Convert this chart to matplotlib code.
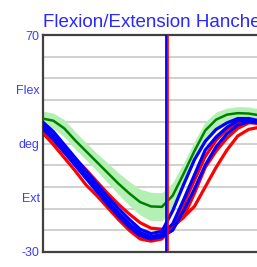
import matplotlib
matplotlib.use('Agg')
import matplotlib.pyplot as plt

# gait cycle (%)
cycle = [0, 5, 10, 15, 20, 25, 30, 35, 40, 45, 50, 55, 60, 65, 70, 75, 80, 85, 90, 95, 100]

# normative hip flexion (mean and spread)
norm_mean = [31.5, 30.5, 27, 21.5, 16.5, 11.5, 6.5, 1.5, -3, -7, -9, -9.2, -4, 6, 16.5, 26, 31, 33.3, 34, 33.8, 33]
norm_sd = [3.5, 3.5, 4, 4, 4, 4, 4.5, 5, 5.5, 6, 6.5, 6.5, 6, 5, 4.5, 4, 3.5, 3, 3, 3, 3]

# right side trials (red)
red_trials = [
    [27, 23, 18, 13, 8, 2.5, -3, -8, -12.5, -16.5, -19, -19.5, -18, -14, -3, 9, 16.5, 22.5, 27, 29.5, 29.5],
    [26, 21.5, 16, 10.5, 4.5, -1.5, -7, -12.5, -17.5, -21.5, -23, -22, -18, -8, 3, 14, 21.5, 26.5, 29.5, 30, 29],
    [25, 19.5, 13.5, 7.5, 1, -4, -9.5, -15, -20, -24, -25, -24, -18.5, -14, -9, 0, 9, 17, 23.5, 26.5, 27.5],
]

# left side trials (blue)
blue_trials = [
    [30, 25.5, 19.5, 13.5, 7.5, 1.5, -4.5, -10, -15, -19.5, -21.5, -20.5, -11, 1, 12.5, 21, 26.5, 29.5, 31.5, 31.5, 30.5],
    [28.5, 23.5, 17.5, 11.5, 5.5, -0.5, -6.5, -12, -17, -21, -23, -22, -17, -6, 5.5, 17, 23, 27.5, 30.5, 31, 30],
    [27, 22, 16, 10, 4, -2, -8, -13.5, -18.5, -22.5, -24, -23, -20, -11, -1, 10, 18.5, 24.5, 28.5, 30, 29.5],
]

# toe off markers
toe_off_left = 56.7
toe_off_right = 58.0

ytick_pos = [70, 45, 20, -5, -30]
ytick_labels = ['70', 'Flex', 'deg', 'Ext', '-30']

plt.rcParams['font.family'] = ['Liberation Sans', 'DejaVu Sans']

fig = plt.figure(figsize=(2.57, 2.67), dpi=100)
ax = fig.add_axes([42.5 / 257, 15 / 267, 217 / 257, 217 / 267])

lo = [m - s for m, s in zip(norm_mean, norm_sd)]
hi = [m + s for m, s in zip(norm_mean, norm_sd)]
ax.fill_between(cycle, lo, hi, color='#b4f0b4', lw=0, zorder=1)

for tr in red_trials:
    ax.plot(cycle, tr, color='#ff0000', lw=2.3, zorder=2, solid_capstyle='butt')
for tr in blue_trials:
    ax.plot(cycle, tr, color='#0000ff', lw=2.3, zorder=3, solid_capstyle='butt')

ax.plot(cycle, norm_mean, color='#008000', lw=1.8, zorder=4)

ax.axvline(toe_off_left, color='#0000ff', lw=2.0, zorder=5)
ax.axvline(toe_off_right, color='#ff0000', lw=1.2, zorder=5)

ax.set_xlim(0, 100)
ax.set_ylim(-30, 70)
ax.set_xticks([])
ax.set_yticks(ytick_pos)
ax.set_yticklabels(ytick_labels, color='#3c3cff', fontsize=9)
ax.tick_params(axis='y', length=0, pad=2)

for y in range(-20, 70, 10):
    ax.axhline(y, color='#c4c4c4', lw=1.1, zorder=0)

for side in ['left', 'top', 'bottom']:
    ax.spines[side].set_color('#404040')
    ax.spines[side].set_linewidth(1.6)
ax.spines['right'].set_visible(False)

fig.text(43 / 257, 1 - 27 / 267, 'Flexion/Extension Hanche', color='#2828ff',
         fontsize=13.5, ha='left', va='baseline')

fig.savefig('out.png', dpi=100)
plt.close(fig)
